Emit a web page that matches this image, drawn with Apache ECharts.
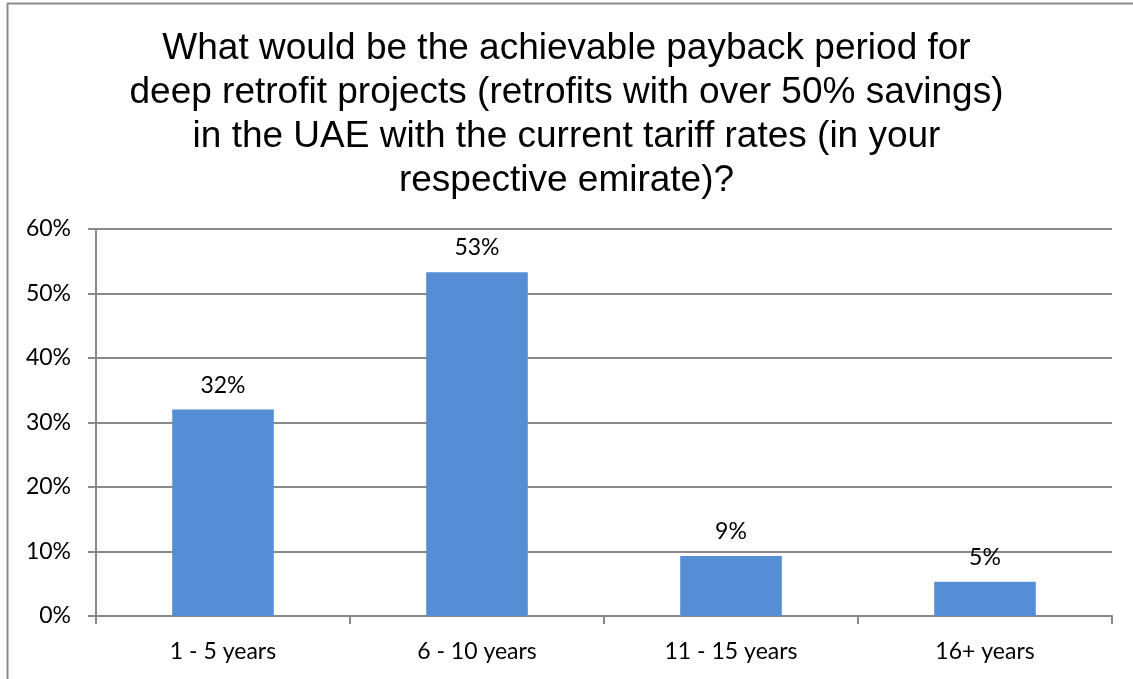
<!DOCTYPE html>
<html>
<head>
<meta charset="utf-8">
<script src="https://cdn.jsdelivr.net/npm/echarts@6/dist/echarts.min.js"></script>
<style>
  html, body { margin: 0; padding: 0; background: #fff; }
  #chart { width: 1133px; height: 679px; }
</style>
</head>
<body>
<div id="chart"></div>
<script>
// Survey answers: share of respondents per payback period
const titleText = 'What would be the achievable payback period for\ndeep retrofit projects (retrofits with over 50% savings)\nin the UAE with the current tariff rates (in your\nrespective emirate)?';
const categories = ['1 - 5 years', '6 - 10 years', '11 - 15 years', '16+ years'];
const shares = [32, 53.3, 9.3, 5.3];
const yTicks = { min: 0, max: 60, interval: 10 };

const chart = echarts.init(document.getElementById('chart'), null, { renderer: 'canvas' });
const gray = '#898989';
const labelFont = 'Lato, "Open Sans", sans-serif';
const labelSize = 23;

chart.setOption({
  backgroundColor: '#ffffff',
  animation: false,
  graphic: [{
    type: 'rect',
    shape: { x: 7.5, y: 3.5, width: 1200, height: 800 },
    style: { fill: 'none', stroke: '#8c8c8c', lineWidth: 2 },
    silent: true
  }],
  title: {
    text: titleText,
    left: 'center',
    top: 22,
    textStyle: {
      fontFamily: '"Liberation Sans", Arial, sans-serif',
      fontSize: 37,
      fontWeight: 'normal',
      color: '#000',
      lineHeight: 44
    }
  },
  grid: { left: 96, right: 21, top: 229, bottom: 63, containLabel: false },
  xAxis: {
    type: 'category',
    data: categories,
    axisLine: { show: true, lineStyle: { color: gray, width: 2 } },
    axisTick: { show: true, length: 8, lineStyle: { color: gray, width: 2 } },
    axisLabel: { color: '#000', fontSize: labelSize, fontFamily: labelFont, margin: 24 }
  },
  yAxis: {
    type: 'value',
    min: yTicks.min,
    max: yTicks.max,
    interval: yTicks.interval,
    axisLine: { show: true, lineStyle: { color: gray, width: 2 } },
    axisTick: { show: true, length: 8, lineStyle: { color: gray, width: 2 } },
    splitLine: { show: true, lineStyle: { color: gray, width: 2 } },
    axisLabel: {
      color: '#000', fontSize: labelSize, fontFamily: labelFont, margin: 25,
      formatter: v => v + '%'
    }
  },
  series: [{
    type: 'bar',
    data: shares,
    barWidth: '40%',
    itemStyle: { color: '#558ed5' },
    label: {
      show: true,
      position: 'top',
      distance: 13,
      color: '#000',
      fontSize: labelSize,
      fontFamily: labelFont,
      formatter: p => Math.round(p.value) + '%'
    }
  }]
});
</script>
</body>
</html>
